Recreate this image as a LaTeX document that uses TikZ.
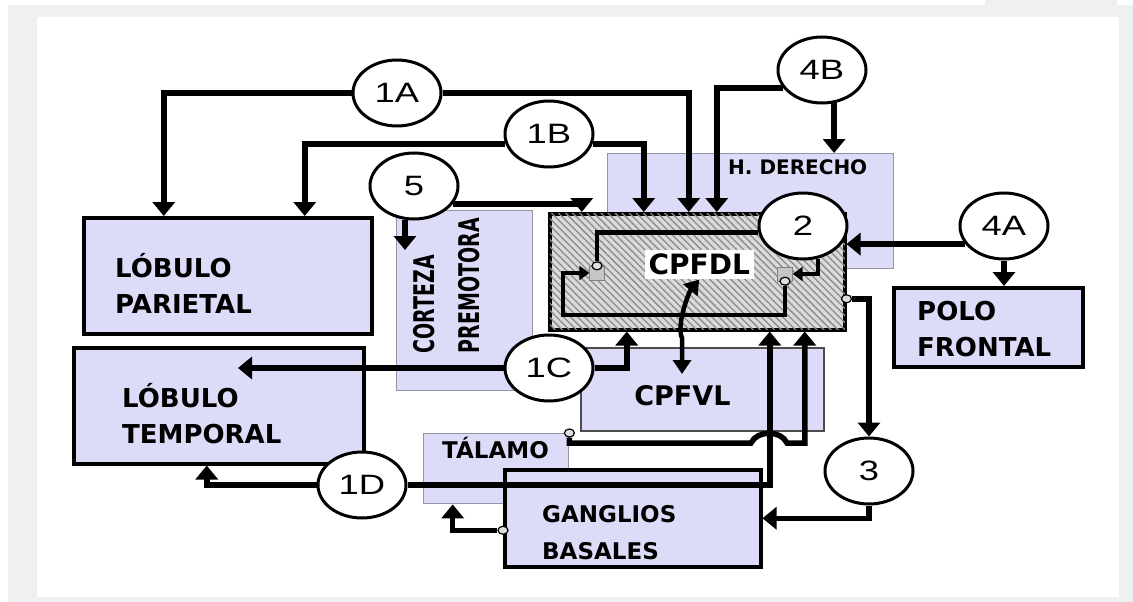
\documentclass[tikz,border=0pt]{standalone}
\usepackage{fontspec}
\setmainfont{DejaVu Sans}
\newfontfamily\numfont{Liberation Sans}[FakeStretch=1.3]
\usetikzlibrary{arrows.meta, positioning, shapes.geometric, patterns.meta}
\definecolor{pageGray}{HTML}{EFF0F2}
\definecolor{lobeFill}{HTML}{DCDCF8}
\definecolor{thinEdge}{HTML}{9494A4}
\definecolor{hatchGray}{HTML}{DADADA}
\definecolor{hatchLine}{HTML}{8C8C8C}
\tikzset{
  arrowK/.style={-{Triangle[width=22pt,length=14pt]}, line width=5.5pt},
  arrowS/.style={-{Triangle[width=14pt,length=10pt]}, line width=4.5pt},
  arrowKK/.style={{Triangle[width=18pt,length=14pt]}-{Triangle[width=18pt,length=14pt]},
                  line width=4.5pt},
  boxL/.style={rectangle, draw=black, line width=3.5pt, fill=lobeFill,
               anchor=north west, inner sep=0pt},
  boxT/.style={rectangle, draw=thinEdge, line width=1.4pt, fill=lobeFill,
               anchor=north west, inner sep=0pt},
  boxV/.style={rectangle, draw=black!70, line width=1.8pt, fill=lobeFill,
               anchor=north west, inner sep=0pt},
  boxH/.style={rectangle, draw=black, line width=3.5pt, fill=hatchGray,
               postaction={pattern={Lines[angle=-45, distance=5pt, line width=1.3pt]},
                           pattern color=hatchLine},
               anchor=north west, inner sep=0pt},
  numC/.style={ellipse, draw=black, line width=3pt, fill=white,
               minimum width=88pt, minimum height=66pt, inner sep=0pt,
               font=\numfont\fontsize{28}{30}\selectfont},
  txtL/.style={anchor=west, align=left, inner sep=0pt,
               font=\bfseries\fontsize{26}{36}\selectfont},
  txtR/.style={anchor=west, rotate=90, inner sep=0pt,
               font=\bfseries\fontsize{19}{24}\selectfont},
  synSq/.style={rectangle, draw=gray, fill=gray!45, minimum width=15pt,
                minimum height=14pt, inner sep=0pt},
  synDot/.style={ellipse, draw=black, line width=1.2pt, fill=gray!25,
                 minimum width=10pt, minimum height=8pt, inner sep=0pt},
}
\begin{document}
\begin{tikzpicture}[x=1pt, y=-1pt]
  \useasboundingbox (0,0) rectangle (1133,602);
  % frame
  \fill[pageGray] (8,5) rectangle (1133,602);
  \fill[pageGray] (985,0) rectangle (1117,5);
  \fill[white] (37,17) rectangle (1119,597);

  % areas
  \node[boxL, minimum width=288pt, minimum height=116pt] (par) at (82,216) {};
  \node[boxL, minimum width=290pt, minimum height=116pt] (tem) at (72,346) {};
  \node[boxT, minimum width=136pt, minimum height=180pt] (prem) at (396,210) {};
  \node[boxT, minimum width=286pt, minimum height=115pt] (hder) at (607,153) {};
  \node[boxH, minimum width=295pt, minimum height=116pt] (dl) at (548,212) {};
  \node[boxV, minimum width=243pt, minimum height=83pt] (vl) at (580,347) {};
  \node[boxT, minimum width=145pt, minimum height=70pt] (tal) at (423,433) {};
  \node[boxL, minimum width=256pt, minimum height=97pt] (gb) at (503,468) {};
  \node[boxL, minimum width=189pt, minimum height=79pt] (polo) at (892,286) {};

  \node[txtL] at ([xshift=33pt,yshift=-8pt]par.west) {LÓBULO\\PARIETAL};
  \node[txtL] at ([xshift=50pt,yshift=-8pt]tem.west) {LÓBULO\\TEMPORAL};
  \node[txtL] at ([xshift=25pt,yshift=-2pt]polo.west) {POLO\\FRONTAL};
  \node[txtL, font=\bfseries\fontsize{23}{37}\selectfont]
    at ([xshift=39pt,yshift=-14pt]gb.west) {GANGLIOS\\BASALES};
  \node[txtL, font=\bfseries\fontsize{23}{30}\selectfont]
    at ([xshift=19pt,yshift=-15pt]tal.north west) {TÁLAMO};
  \node[txtL, font=\bfseries\fontsize{20}{24}\selectfont]
    at ([xshift=121pt,yshift=-14pt]hder.north west) {H. DERECHO};
  \node[txtR] at ([xshift=28pt,yshift=38pt]prem.south west)
    {\scalebox{1}[1.5]{CORTEZA}};
  \node[txtR] at ([xshift=73pt,yshift=38pt]prem.south west)
    {\scalebox{1}[1.5]{PREMOTORA}};
  \node[font=\bfseries\fontsize{27}{30}\selectfont]
    at ([xshift=-20pt,yshift=-6pt]vl.center) {CPFVL};
  \node[fill=white, inner sep=4pt, font=\bfseries\fontsize{28}{30}\selectfont]
    (dlTxt) at ([xshift=2pt,yshift=7pt]dl.center) {CPFDL};

  % synapses
  \node[synSq] (sq1) at (597,273) {};
  \node[synDot] (k1) at (sq1.north) {};
  \node[synSq] (sq2) at (785,274) {};
  \node[synDot] (k2) at (sq2.south) {};
  \node[synDot] (k3) at ([yshift=-27pt]dl.east) {};
  \node[synDot] (k4) at (tal.north east) {};
  \node[synDot] (k5) at ([yshift=-12pt]gb.west) {};

  % circuits
  \node[numC] (c1A) at (397,93) {1A};
  \node[numC] (c1B) at (549,134) {1B};
  \node[numC] (c5) at (414,186) {5};
  \node[numC] (c4B) at (822,70) {4B};
  \node[numC] (c2) at (803,226) {2};
  \node[numC] (c4A) at (1004,226) {4A};
  \node[numC] (c1C) at (549,368) {1C};
  \node[numC] (c1D) at (362,485) {1D};
  \node[numC] (c3) at (869,471) {3};

  \coordinate (premIn) at ([xshift=6pt,yshift=-40pt]prem.north west);
  \coordinate (temIn) at (238,368);
  \coordinate (loopL) at (563,315);
  \coordinate (hopA) at (751,443);
  \coordinate (hopB) at (787,443);
  \coordinate (vlIn) at (682,374);

  \draw[arrowK] (c1A.west) -| ([xshift=-64pt]par.north);
  \draw[arrowK] (c1A.east) -| ([xshift=-8.5pt]dl.north);
  \draw[arrowK] (c1B.193) -| ([xshift=77pt]par.north);
  \draw[arrowK] (c1B.347) -| ([xshift=-53.5pt]dl.north);
  \draw[arrowK] (c4B.205) -| ([xshift=19.5pt]dl.north);
  \draw[arrowK] (c4B.290) -- (c4B.290 |- hder.north);
  \draw[arrowK] (c5.335) -| ([xshift=-115.5pt]dl.north);
  \draw[arrowK] (c5.255) -- (c5.255 |- premIn);
  \draw[arrowK] (c4A.205) -- (c4A.205 -| dl.east);
  \draw[arrowK] (c4A.south) -- (c4A.south |- polo.north);
  \draw[arrowK] (c1C.west) -- (c1C.west -| temIn);
  \draw[arrowK] (c1C.east) -| ([xshift=-70.5pt]dl.south);
  \draw[arrowK] (c1D.west) -| ([xshift=-12pt]tem.south);
  \draw[arrowK] (c1D.east) -| ([xshift=72.5pt]dl.south);
  \draw[arrowK] (k3.east) -| (c3.north);
  \draw[arrowK] (c3.south) |- (gb.east);
  \draw[arrowK] (k4.south) |- (hopA) .. controls +(6,-13) and +(-6,-13) .. (hopB)
    -| ([xshift=107.5pt]dl.south);
  \draw[arrowK] (k5.west) -| ([xshift=-43.5pt]tal.south);

  % loop inside CPFDL
  \draw[line width=4.5pt] (c2.188) -| (k1.north);
  \draw[arrowS] (k2.south) |- (loopL) |- (sq1.west);
  \draw[arrowS] (c2.295) |- (sq2.east);
  \draw[arrowKK] (vlIn) -- ++(0,-36) .. controls +(-6,-14) and +(-10,12) .. (dlTxt.south);
\end{tikzpicture}
\end{document}
